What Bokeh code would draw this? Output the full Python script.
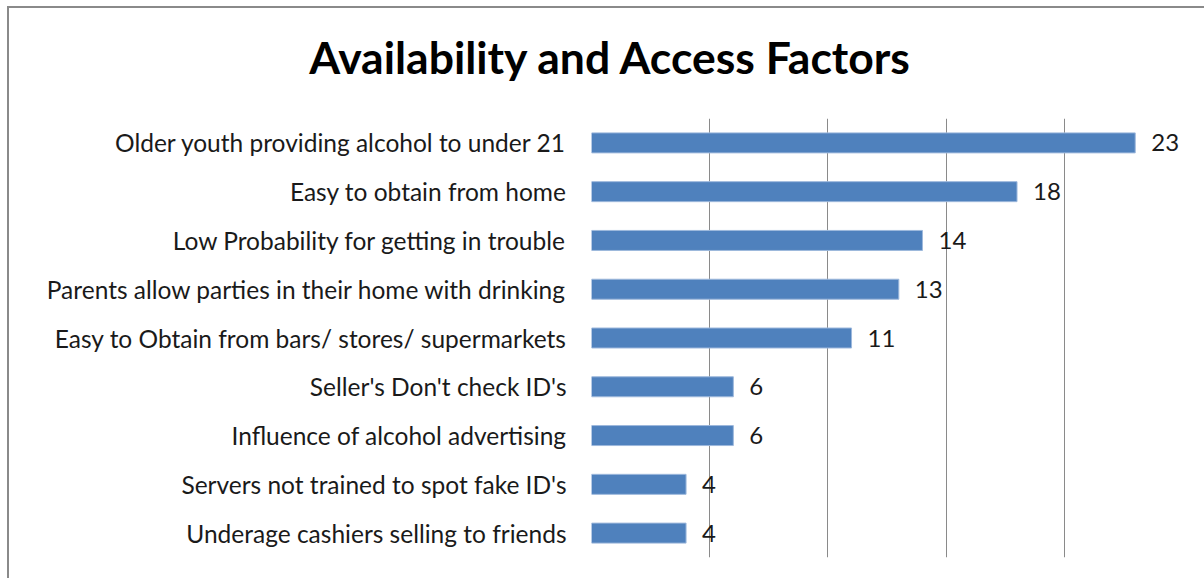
from bokeh.plotting import figure
from bokeh.layouts import column
from bokeh.models import ColumnDataSource, FactorRange, Range1d, FixedTicker, Div
from bokeh.core.properties import value
from bokeh.embed import file_html
from bokeh.resources import INLINE

title_text = "Availability and Access Factors"
categories = [
    "Older youth providing alcohol to under 21",
    "Easy to obtain from home",
    "Low Probability for getting in trouble",
    "Parents allow parties in their home with drinking",
    "Easy to Obtain from bars/ stores/ supermarkets",
    "Seller's Don't check ID's",
    "Influence of alcohol advertising",
    "Servers not trained to spot fake ID's",
    "Underage cashiers selling to friends",
]
values = [23, 18, 14, 13, 11, 6, 6, 4, 4]
x_ticks = [0, 5, 10, 15, 20, 25]

src = ColumnDataSource(dict(cat=categories, val=values, lab=[str(v) for v in values]))

title = Div(text=title_text, width=1195, height=70,
            styles={"font-family": "Lato", "font-weight": "bold", "font-size": "44.5px",
                    "line-height": "37px", "text-align": "center", "color": "black",
                    "padding-top": "25px", "padding-right": "4px", "box-sizing": "border-box",
                    "background": "white"})

p = figure(width=1195, height=500, output_backend="svg", toolbar_location=None,
           y_range=FactorRange(*reversed(categories), range_padding=0),
           x_range=Range1d(0, 25),
           min_border_left=582, min_border_right=22, min_border_top=30, min_border_bottom=31)
p.outline_line_color = None
p.background_fill_color = "white"
p.border_fill_color = "white"

p.hbar(y="cat", right="val", left=0, height=0.41, source=src,
       fill_color="#4F81BD", line_color="#9DB8DC", line_width=1)

p.text(x="val", y="cat", text="lab", source=src, x_offset=16,
       text_baseline="middle", text_align="left",
       text_font=value("Lato"), text_font_size="24px", text_color="#1a1a1a")

p.xaxis.visible = False
p.xgrid.ticker = FixedTicker(ticks=x_ticks)
p.xgrid.grid_line_color = "#8a8a8a"
p.xgrid.grid_line_width = 1
p.ygrid.grid_line_color = None

ax = p.yaxis[0]
ax.axis_line_color = None
ax.major_tick_line_color = None
ax.minor_tick_line_color = None
ax.major_label_standoff = 19
ax.major_label_text_font = "Lato"
ax.major_label_text_font_size = "24.5px"
ax.major_label_text_color = "#1a1a1a"

layout = column(title, p, spacing=0,
                styles={"border-left": "2px solid #8a8a8a", "border-top": "2px solid #8a8a8a",
                        "margin-left": "7px", "margin-top": "6px", "background": "white"})

open("out.html", "w").write(file_html(layout, INLINE))
